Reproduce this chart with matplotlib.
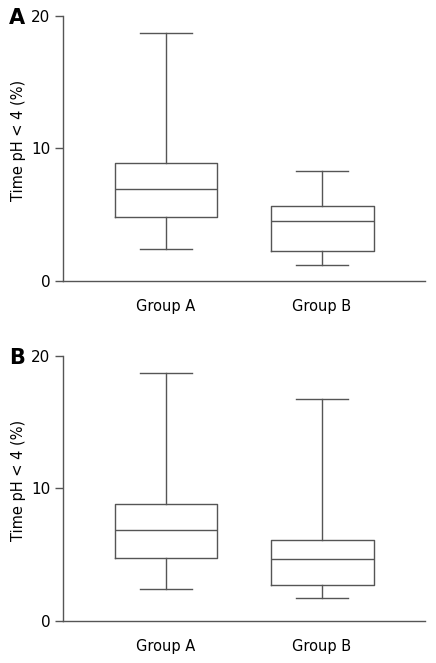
import matplotlib
matplotlib.use('Agg')
import matplotlib.pyplot as plt

# ---------------------------------------------------------
# Data
# ---------------------------------------------------------
groups = ['Group A', 'Group B']

# panel A
a_low = [2.44, 1.21]
a_q1 = [4.82, 2.24]
a_med = [6.93, 4.52]
a_q3 = [8.90, 5.63]
a_high = [18.7, 8.27]

# panel B
b_low = [2.44, 1.71]
b_q1 = [4.75, 2.69]
b_med = [6.88, 4.65]
b_q3 = [8.79, 6.13]
b_high = [18.74, 16.76]

line_color = '#555555'


def make_stats(low, q1, med, q3, high):
    stats = []
    for i in range(len(groups)):
        stats.append({'whislo': low[i], 'q1': q1[i], 'med': med[i],
                      'q3': q3[i], 'whishi': high[i], 'fliers': [],
                      'label': groups[i]})
    return stats


fig = plt.figure(figsize=(4.36, 6.63), dpi=100)
ax_a = fig.add_axes([0.1438, 0.5762, 0.831, 0.400])
ax_b = fig.add_axes([0.1438, 0.0633, 0.831, 0.400])

panels = [
    (ax_a, 'A', make_stats(a_low, a_q1, a_med, a_q3, a_high)),
    (ax_b, 'B', make_stats(b_low, b_q1, b_med, b_q3, b_high)),
]

for ax, letter, stats in panels:
    style = dict(color=line_color, linewidth=1.0)
    ax.bxp(stats, positions=[1, 2], widths=0.66, capwidths=0.33,
           showfliers=False,
           boxprops=style, whiskerprops=style, capprops=style,
           medianprops=style)
    ax.set_xlim(0.338, 2.66)
    ax.set_ylim(0, 20)
    ax.set_yticks([0, 10, 20])
    ax.spines['top'].set_visible(False)
    ax.spines['right'].set_visible(False)
    for s in ['left', 'bottom']:
        ax.spines[s].set_color(line_color)
        ax.spines[s].set_linewidth(1.0)
    ax.tick_params(axis='y', length=6, width=1.0, color=line_color,
                   labelsize=11, pad=3)
    ax.tick_params(axis='x', length=0, labelsize=10.5, pad=13)
    ax.set_xticks([1, 2])
    ax.set_xticklabels(groups)
    ax.set_ylabel('Time pH < 4 (%)', fontsize=10.5)
    ax.yaxis.set_label_coords(-0.10, 0.53)
    ax.text(-0.148, 0.99, letter, transform=ax.transAxes, fontsize=15,
            fontweight='bold', ha='left', va='center')

plt.savefig('out.png', dpi=100)
